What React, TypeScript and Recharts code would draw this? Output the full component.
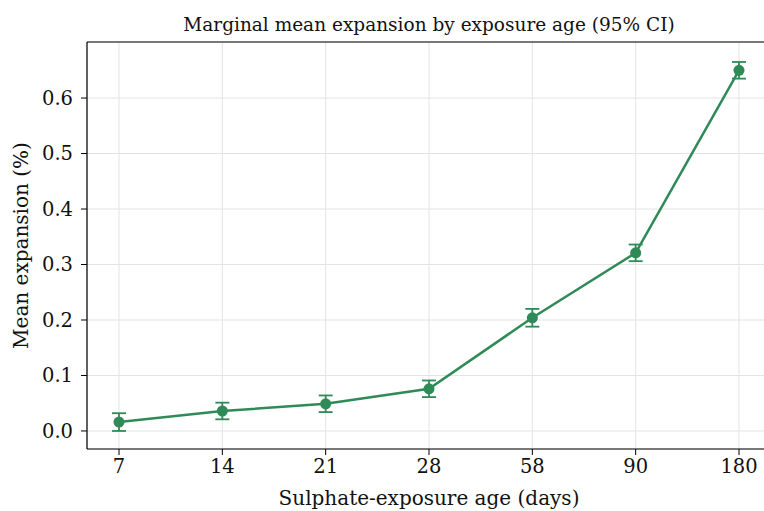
import React from 'react';
import { LineChart, Line, XAxis, YAxis, CartesianGrid, ErrorBar, ReferenceLine } from 'recharts';

const ages = ['7', '14', '21', '28', '58', '90', '180'];
const meanExpansion = [0.016, 0.036, 0.049, 0.076, 0.204, 0.321, 0.65];
const ciHalfWidth = [0.016, 0.015, 0.015, 0.015, 0.016, 0.015, 0.015];
const yTicks = [0, 0.1, 0.2, 0.3, 0.4, 0.5, 0.6];

const GREEN = '#2e8b57';
const FONT = '"DejaVu Serif", serif';
const Y_MIN = -0.0325;
const Y_MAX = 0.701;

const data = ages.map((age, i) => ({
  age,
  mean: meanExpansion[i],
  ci: ciHalfWidth[i],
}));

export default function App() {
  return (
    <div
      style={{
        position: 'absolute',
        left: 0,
        top: 0,
        width: 764,
        height: 511,
        overflow: 'hidden',
        background: '#fff',
        fontFamily: FONT,
      }}
    >
      <div
        style={{
          position: 'absolute',
          top: 14,
          left: 0,
          width: 858,
          textAlign: 'center',
          fontSize: 18.5,
          lineHeight: '22px',
          color: '#111',
        }}
      >
        Marginal mean expansion by exposure age (95% CI)
      </div>
      <LineChart
        width={780}
        height={511}
        data={data}
        margin={{ top: 42, right: 9, left: 0, bottom: 0 }}
      >
        <CartesianGrid stroke="#e3e3e3" strokeWidth={1} />
        <XAxis
          dataKey="age"
          type="category"
          height={62}
          padding={{ left: 32, right: 32 }}
          axisLine={{ stroke: '#000', strokeWidth: 1.2 }}
          tickLine={{ stroke: '#000' }}
          tickSize={6}
          tick={{ fontSize: 19.5, fill: '#111', fontFamily: FONT, dy: 2 }}
          label={{
            value: 'Sulphate-exposure age (days)',
            position: 'insideBottom',
            offset: 6,
            fontSize: 20,
            fill: '#111',
            fontFamily: FONT,
          }}
        />
        <YAxis
          type="number"
          width={87}
          domain={[Y_MIN, Y_MAX]}
          ticks={yTicks}
          allowDataOverflow
          tickFormatter={(v: number) => v.toFixed(1)}
          axisLine={{ stroke: '#000', strokeWidth: 1.2 }}
          tickLine={{ stroke: '#000' }}
          tickSize={6}
          tickMargin={8}
          tick={{ fontSize: 19.5, fill: '#111', fontFamily: FONT }}
          label={{
            value: 'Mean expansion (%)',
            angle: -90,
            position: 'insideLeft',
            offset: 21,
            style: { textAnchor: 'middle' },
            fontSize: 20,
            fill: '#111',
            fontFamily: FONT,
          }}
        />
        <ReferenceLine y={Y_MAX} stroke="#000" strokeWidth={1.2} />
        <Line
          dataKey="mean"
          stroke={GREEN}
          strokeWidth={2.5}
          dot={{ r: 5.5, fill: GREEN, stroke: GREEN, strokeWidth: 0 }}
          activeDot={false}
          isAnimationActive={false}
        >
          <ErrorBar dataKey="ci" width={7} stroke={GREEN} strokeWidth={1.8} isAnimationActive={false} />
        </Line>
      </LineChart>
    </div>
  );
}
